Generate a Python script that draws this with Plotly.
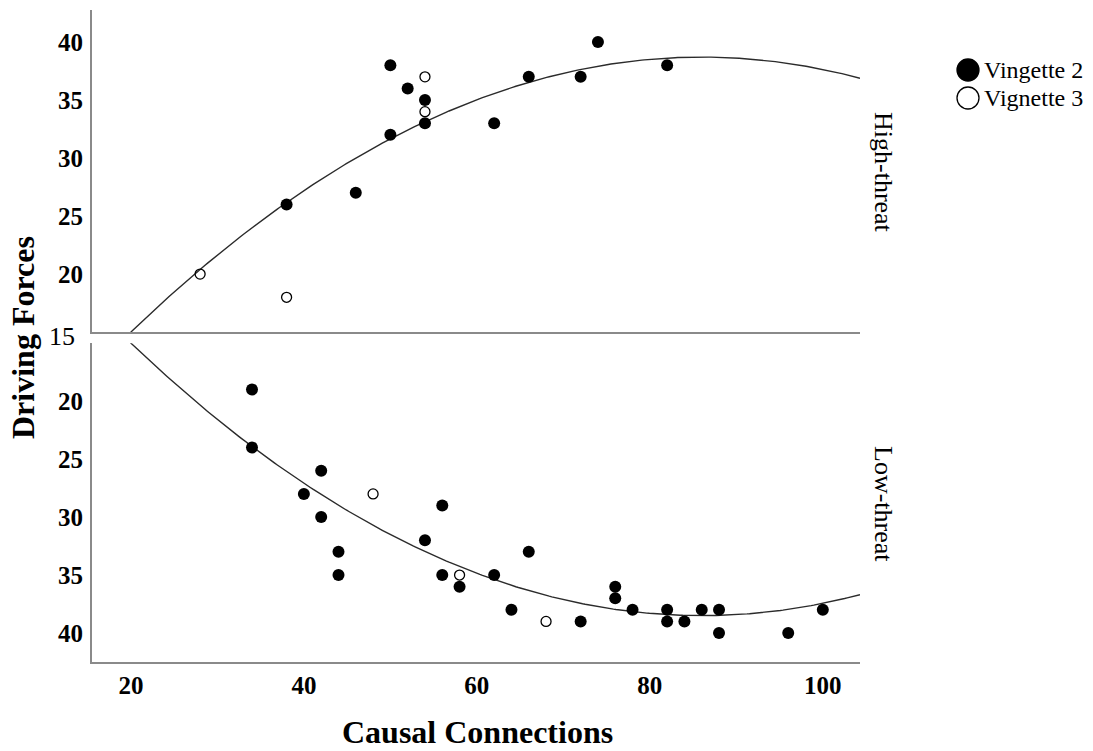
import numpy as np
import plotly.graph_objects as go

# High-threat panel
high_v2_x = [38, 46, 50, 50, 52, 54, 54, 62, 66, 72, 74, 82]
high_v2_y = [26, 27, 38, 32, 36, 35, 33, 33, 37, 37, 40, 38]
high_v3_x = [28, 38, 54, 54]
high_v3_y = [20, 18, 37, 34]

# Low-threat panel
low_v2_x = [34, 34, 40, 42, 42, 44, 44, 54, 56, 56, 58, 62, 64, 66, 72,
            76, 76, 78, 82, 82, 84, 86, 88, 88, 96, 100]
low_v2_y = [19, 24, 28, 26, 30, 33, 35, 32, 29, 35, 36, 35, 38, 33, 39,
            36, 37, 38, 38, 39, 39, 38, 38, 40, 40, 38]
low_v3_x = [48, 58, 68]
low_v3_y = [28, 35, 39]

# Quadratic fit lines (coefficients for x^2, x, 1)
high_fit = [-0.00544, 0.9357, -1.534]
low_fit = [-0.005395, 0.92794, -1.402]

x_ticks = [20, 40, 60, 80, 100]
y_ticks = [20, 25, 30, 35, 40]

SERIF = "Liberation Serif, Times New Roman, serif"
AXIS_GRAY = "#8a8a8a"

X_RANGE = [15.5, 104.3]

# plot area in pixels (for paper-coordinate helpers)
L, R, T, B = 92, 233, 10, 89
W, H = 1093, 751
PW, PH = W - L - R, H - T - B


def px_x(px):
    return (px - L) / PW


def px_y(py):
    return (H - B - py) / PH


def fit_curve(coef):
    gx = np.linspace(X_RANGE[0], X_RANGE[1], 300)
    return gx, np.polyval(coef, gx)


fig = go.Figure()

hx, hy = fit_curve(high_fit)
lx, ly = fit_curve(low_fit)

line_style = dict(color="#2b2b2b", width=1.4)
filled = dict(symbol="circle", size=12, color="black", line=dict(width=0))
hollow = dict(symbol="circle-open", size=10, color="black", line=dict(width=1.3))

fig.add_trace(go.Scatter(x=hx, y=hy, mode="lines", line=line_style,
                         xaxis="x2", yaxis="y", hoverinfo="skip"))
fig.add_trace(go.Scatter(x=lx, y=ly, mode="lines", line=line_style,
                         xaxis="x", yaxis="y2", hoverinfo="skip"))

fig.add_trace(go.Scatter(x=high_v2_x, y=high_v2_y, mode="markers", marker=filled,
                         name="Vingette 2", xaxis="x2", yaxis="y"))
fig.add_trace(go.Scatter(x=high_v3_x, y=high_v3_y, mode="markers", marker=hollow,
                         name="Vignette 3", xaxis="x2", yaxis="y"))
fig.add_trace(go.Scatter(x=low_v2_x, y=low_v2_y, mode="markers", marker=filled,
                         name="Vingette 2", xaxis="x", yaxis="y2"))
fig.add_trace(go.Scatter(x=low_v3_x, y=low_v3_y, mode="markers", marker=hollow,
                         name="Vignette 3", xaxis="x", yaxis="y2"))

tick_font = dict(family=SERIF, size=25, color="black", weight="bold")
axis_common = dict(showline=True, linecolor=AXIS_GRAY, linewidth=2,
                   showgrid=False, zeroline=False, ticks="")

fig.update_layout(
    width=W, height=H,
    margin=dict(l=L, r=R, t=T, b=B),
    paper_bgcolor="white", plot_bgcolor="white",
    font=dict(family=SERIF, color="black"),
    showlegend=False,
    xaxis=dict(anchor="y2", domain=[0, 1], range=X_RANGE,
               tickvals=x_ticks, tickfont=tick_font, ticklabelstandoff=0,
               **axis_common),
    xaxis2=dict(anchor="y", domain=[0, 1], range=X_RANGE, matches="x",
                showticklabels=False, **axis_common),
    yaxis=dict(anchor="x2", domain=[0.506, 1], range=[15, 42.76],
               tickvals=y_ticks, tickfont=tick_font, ticklabelstandoff=2,
               **axis_common),
    yaxis2=dict(anchor="x", domain=[0, 0.489], range=[42.5, 15],
                tickvals=y_ticks, tickfont=tick_font, ticklabelstandoff=2,
                **axis_common),
)

# legend keys: large filled / hollow circles with labels
legend_items = [("Vingette 2", 70, "black"), ("Vignette 3", 98, "white")]
shapes = []
annotations = []
for label, cy, fillc in legend_items:
    shapes.append(dict(type="circle", xref="paper", yref="paper",
                       x0=px_x(957), x1=px_x(979), y0=px_y(cy + 11), y1=px_y(cy - 11),
                       fillcolor=fillc, line=dict(color="black", width=1.3)))
    annotations.append(dict(text=label, x=px_x(982), y=px_y(cy), xref="paper",
                            yref="paper", xanchor="left", yanchor="middle",
                            showarrow=False,
                            font=dict(family=SERIF, size=24, color="black")))

annotations += [
    dict(text="15", x=px_x(62), y=px_y(336), xref="paper", yref="paper",
         xanchor="center", yanchor="middle", showarrow=False,
         font=dict(family=SERIF, size=26, color="black")),
    dict(text="<b>Driving Forces</b>", x=px_x(23), y=px_y(338), xref="paper",
         yref="paper", xanchor="center", yanchor="middle", textangle=-90,
         showarrow=False, font=dict(family=SERIF, size=32, color="black")),
    dict(text="<b>Causal Connections</b>", x=px_x(477), y=px_y(732), xref="paper",
         yref="paper", xanchor="center", yanchor="middle", showarrow=False,
         font=dict(family=SERIF, size=32, color="black")),
    dict(text="High-threat", x=px_x(884), y=px_y(172), xref="paper", yref="paper",
         xanchor="center", yanchor="middle", textangle=90, showarrow=False,
         font=dict(family=SERIF, size=26, color="black")),
    dict(text="Low-threat", x=px_x(884), y=px_y(504), xref="paper", yref="paper",
         xanchor="center", yanchor="middle", textangle=90, showarrow=False,
         font=dict(family=SERIF, size=26, color="black")),
]
fig.update_layout(shapes=shapes, annotations=annotations)

fig.write_html("out.html")
